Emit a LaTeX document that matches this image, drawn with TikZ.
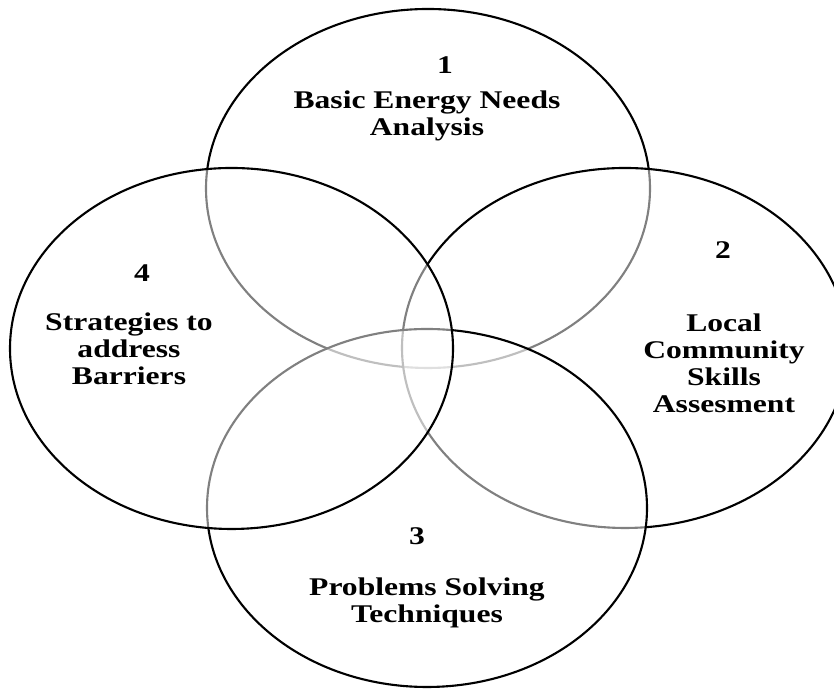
\documentclass[tikz,border=0pt]{standalone}
\usepackage{fontspec}
\newfontfamily\vennfont[FakeStretch=1.24]{Liberation Serif}
\usepackage{tikz}
\usetikzlibrary{positioning}

\begin{document}
\begin{tikzpicture}[
    venn/.style={draw=black, line width=1.2pt, fill=white, fill opacity=0.5},
    num/.style={font=\vennfont\bfseries\fontsize{14.5}{15.4}\selectfont, inner sep=0pt},
    lbl/.style={font=\vennfont\bfseries\fontsize{14.5}{15.4}\selectfont, align=center, inner sep=0pt}
]
    \useasboundingbox (0,0) rectangle (16.68,13.78);
    \clip (0,0) rectangle (16.68,13.78);

    \path[venn] (8.56,10.01) ellipse [x radius=4.44, y radius=3.59];
    \path[venn] (12.50,6.82) ellipse [x radius=4.46, y radius=3.60];
    \path[venn] (8.54,3.62) ellipse [x radius=4.40, y radius=3.58];
    \path[venn] (4.63,6.81) ellipse [x radius=4.43, y radius=3.61];

    \node[num] (n1) at (8.90,12.47) {1};
    \node[lbl] (basic) at (8.54,11.47) {Basic Energy Needs\\Analysis};

    \node[num] (n2) at (14.46,8.78) {2};
    \node[lbl] (local) at (14.48,6.51) {Local\\Community\\Skills\\Assesment};

    \node[num] (n3) at (8.34,3.06) {3};
    \node[lbl] (problems) at (8.54,1.73) {Problems Solving\\Techniques};

    \node[num] (n4) at (2.84,8.31) {4};
    \node[lbl] (strategies) at (2.58,6.81) {Strategies to\\address\\Barriers};
\end{tikzpicture}
\end{document}
